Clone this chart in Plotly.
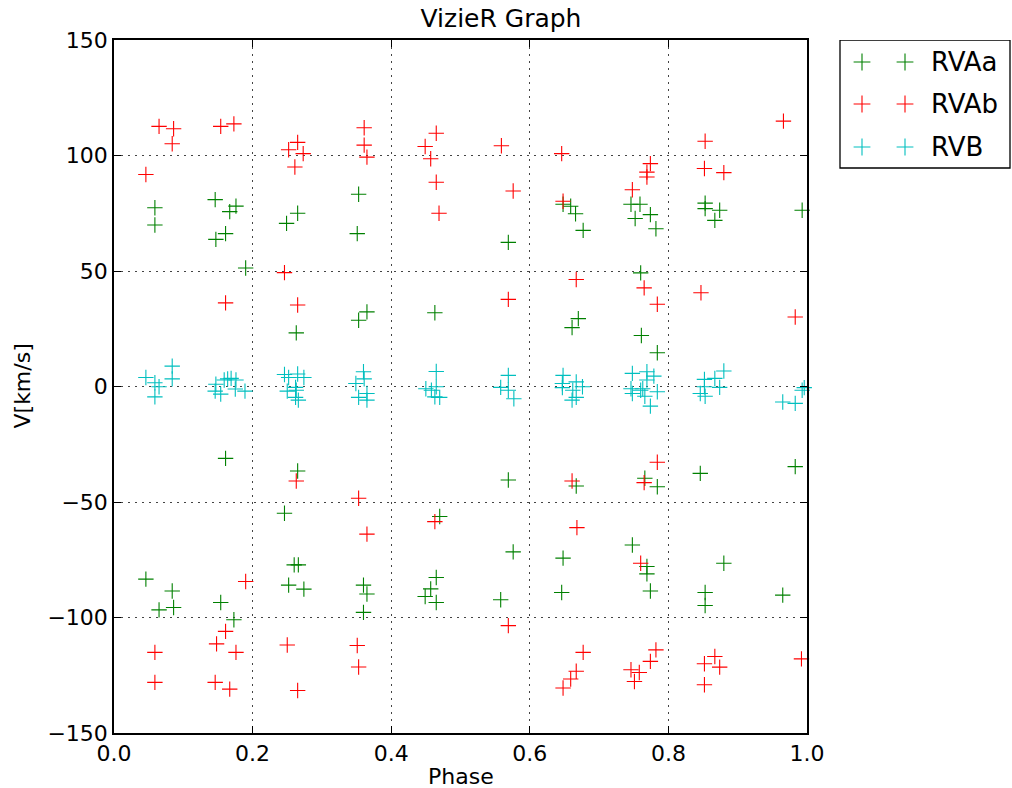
import plotly.graph_objects as go

# ---------------- data ----------------
rvaa_phase = [0.046, 0.059, 0.059, 0.065, 0.084, 0.086, 0.146, 0.147, 0.154, 0.161, 0.161, 0.167, 0.173, 0.176,
              0.190, 0.246, 0.249, 0.252, 0.260, 0.266, 0.263, 0.265, 0.265, 0.274, 0.351, 0.353, 0.353, 0.360,
              0.360, 0.365, 0.365, 0.449, 0.457, 0.463, 0.465, 0.465, 0.470, 0.558, 0.569, 0.569, 0.576, 0.646,
              0.648, 0.648, 0.659, 0.661, 0.666, 0.667, 0.670, 0.677, 0.746, 0.748, 0.752, 0.759, 0.760, 0.761,
              0.766, 0.769, 0.769, 0.774, 0.774, 0.782, 0.784, 0.784, 0.846, 0.853, 0.853, 0.853, 0.853, 0.867,
              0.874, 0.880, 0.965, 0.983, 0.993]
rvaa_v = [-83.4, 77.4, 69.9, -96.7, -88.5, -95.7, 80.9, 63.7, -93.5, 66.2, -31.1, 75.7, -101.0, 78.1,
          51.3, -54.9, 70.6, -86.0, -77.2, -77.2, 23.2, 75.0, -36.6, -87.7, 66.2, 83.2, 28.7, -86.0,
          -97.8, 32.3, -89.8, -90.9, -87.6, 31.9, -82.7, -93.5, -56.3, -92.3, 62.4, -40.5, -71.6, -89.2,
          78.9, -74.3, 78.0, 25.5, 74.8, -43.1, 29.4, 67.6, 78.9, -68.6, 72.7, 78.9, 49.2, 22.1,
          -39.7, -77.9, -81.1, 74.4, -88.5, 68.3, 14.6, -43.4, -37.6, 79.4, 77.0, -89.2, -94.8, 71.9,
          76.3, -76.5, -90.3, -34.7, 76.3]

rvab_phase = [0.046, 0.059, 0.059, 0.065, 0.084, 0.086, 0.146, 0.148, 0.154, 0.161, 0.161, 0.167, 0.173, 0.176,
              0.190, 0.246, 0.250, 0.252, 0.261, 0.263, 0.265, 0.265, 0.265, 0.273, 0.351, 0.353, 0.353, 0.361,
              0.361, 0.365, 0.365, 0.449, 0.457, 0.463, 0.465, 0.465, 0.469, 0.559, 0.569, 0.569, 0.576, 0.646,
              0.648, 0.648, 0.659, 0.661, 0.667, 0.667, 0.668, 0.677, 0.746, 0.748, 0.751, 0.758, 0.760, 0.765,
              0.765, 0.769, 0.769, 0.774, 0.774, 0.782, 0.784, 0.784, 0.847, 0.852, 0.852, 0.852, 0.853, 0.867,
              0.874, 0.880, 0.966, 0.983, 0.992]
rvab_v = [91.8, -115.1, -128.1, 112.6, 105.1, 111.6, -128.1, -111.4, 112.6, 36.2, -106.0, -131.0, 113.7, -115.1,
          -84.4, 49.3, -111.9, 102.5, 95.0, -40.9, 105.7, 35.3, -131.6, 100.8, -112.1, -48.4, -121.4, 112.0,
          104.5, 99.3, -63.9, 103.9, 98.6, -58.5, 109.6, 88.4, 75.0, 104.2, 37.7, -103.5, 84.6, 100.8,
          80.2, -130.5, -126.6, -40.9, 46.3, -123.3, -61.1, -115.1, -122.6, 85.2, -127.7, -123.8, -76.5, 42.7,
          -41.6, 92.8, 90.7, 96.5, -119.0, -114.0, 35.6, -32.8, 40.6, 94.4, -120.0, -129.1, 106.2, -116.9,
          -121.5, 92.6, 114.9, 30.1, -117.9]

rvb_phase = [0.046, 0.059, 0.065, 0.059, 0.084, 0.084, 0.147, 0.146, 0.154, 0.159, 0.164, 0.169, 0.176, 0.175,
             0.189, 0.246, 0.252, 0.250, 0.262, 0.263, 0.262, 0.266, 0.265, 0.274, 0.349, 0.353, 0.360, 0.361,
             0.365, 0.365, 0.450, 0.458, 0.463, 0.465, 0.465, 0.470, 0.558, 0.569, 0.569, 0.577, 0.647, 0.647,
             0.648, 0.661, 0.662, 0.667, 0.667, 0.676, 0.746, 0.748, 0.748, 0.760, 0.763, 0.766, 0.769, 0.769,
             0.774, 0.779, 0.784, 0.846, 0.852, 0.852, 0.853, 0.867, 0.874, 0.880, 0.965, 0.983, 0.993, 0.996]
rvb_v = [3.9, 1.6, -0.1, -4.5, 8.8, 3.3, 1.0, -2.0, -3.3, 2.8, 3.3, 3.5, 2.8, -1.1,
         -2.0, 5.2, 3.9, -2.0, -0.4, -1.6, -4.7, -5.9, 5.4, 3.9, 1.3, -4.7, 6.4, 3.3,
         -3.0, -5.9, -1.0, -1.6, -4.5, 6.5, -0.1, -4.7, -0.4, 4.8, -1.6, -5.3, 1.3, -0.5,
         4.8, -5.9, -1.6, 2.0, -4.7, -0.1, -1.0, 5.7, -3.0, -1.6, -1.0, -4.2, 6.4, 2.8,
         -8.5, 4.5, -2.3, -3.0, 3.1, -0.1, -4.2, 3.5, -0.4, 6.7, -6.7, -7.3, -1.6, -0.5]

series_names = ["RVAa", "RVAb", "RVB"]
series_colors = ["#008000", "#FF0000", "#00BFBF"]

x_ticks = [0.0, 0.2, 0.4, 0.6, 0.8, 1.0]
x_ticklabels = ["0.0", "0.2", "0.4", "0.6", "0.8", "1.0"]
y_ticks = [-150, -100, -50, 0, 50, 100, 150]
y_ticklabels = ["\u2212150", "\u2212100", "\u221250", "0", "50", "100", "150"]

# ---------------- layout geometry ----------------
W, H = 1012, 788
L, R, T, B = 114, 0, 40, 55
plot_w = W - L - R          # 898
plot_h = H - T - B          # 693
main_right_px = 807
main_dom_x = [0, (main_right_px - L) / plot_w]

FONT = "DejaVu Sans, Liberation Sans, sans-serif"

fig = go.Figure()

datasets = [(rvaa_phase, rvaa_v), (rvab_phase, rvab_v), (rvb_phase, rvb_v)]
for (xs, ys), name, col in zip(datasets, series_names, series_colors):
    fig.add_trace(go.Scatter(
        x=xs, y=ys, mode="markers", name=name, showlegend=False,
        marker=dict(symbol="cross-thin", size=11, color=col,
                    line=dict(color=col, width=1.1)),
        cliponaxis=False,
        xaxis="x", yaxis="y"))

# custom legend (matplotlib style: two markers per entry)
leg_left, leg_right, leg_top, leg_bot = 840, 1010, 40, 168
leg_rows = [62, 104, 147]
leg_mark_x = [862, 905]
for name, col, yy in zip(series_names, series_colors, leg_rows):
    fig.add_trace(go.Scatter(
        x=leg_mark_x, y=[yy, yy], mode="markers", showlegend=False, hoverinfo="skip",
        marker=dict(symbol="cross-thin", size=12, color=col, line=dict(color=col, width=1.1)),
        cliponaxis=False, xaxis="x2", yaxis="y2"))
    fig.add_annotation(x=929, y=yy, xref="x2", yref="y2", text=name, showarrow=False,
                       xanchor="left", yanchor="middle",
                       font=dict(family=FONT, size=26, color="black"))

fig.add_shape(type="rect", xref="x2", yref="y2", x0=leg_left, x1=leg_right,
              y0=leg_top, y1=leg_bot, line=dict(color="black", width=1.3),
              fillcolor="rgba(0,0,0,0)")

axis_common = dict(
    showline=True, linecolor="black", linewidth=1.5, mirror="allticks",
    ticks="inside", ticklen=7, tickwidth=1, tickcolor="black",
    showgrid=True, gridcolor="#444444", griddash="2px,5px", gridwidth=1.3,
    zeroline=False, tickfont=dict(family=FONT, size=22, color="black"),
)

fig.update_layout(
    width=W, height=H,
    margin=dict(l=L, r=R, t=T, b=B, autoexpand=False),
    paper_bgcolor="white", plot_bgcolor="white",
    xaxis=dict(domain=main_dom_x, range=[0, 1], tickvals=x_ticks, ticktext=x_ticklabels,
               **axis_common),
    yaxis=dict(domain=[0, 1], range=[-150, 150], tickvals=y_ticks, ticktext=y_ticklabels,
               **axis_common),
    xaxis2=dict(domain=[(leg_left - 5 - L) / plot_w, 1.0], range=[leg_left - 5, W - 0],
                visible=False, fixedrange=True),
    yaxis2=dict(domain=[(733 - 180) / plot_h, 1.0],
                range=[180, 40], visible=False, fixedrange=True),
    title=dict(text="VizieR Graph", x=501 / W, xref="container",
               y=1 - 18 / H, yref="container", xanchor="center", yanchor="middle",
               font=dict(family=FONT, size=25, color="black")),
    showlegend=False,
)

# axis titles as annotations for exact placement
fig.add_annotation(text="Phase", xref="paper", yref="paper",
                   x=(main_dom_x[0] + main_dom_x[1]) / 2, y=-(776 - 733) / plot_h,
                   showarrow=False, xanchor="center", yanchor="middle",
                   font=dict(family=FONT, size=22, color="black"))
fig.add_annotation(text="V[km/s]", xref="paper", yref="paper",
                   x=-(L - 22) / plot_w, y=0.5, textangle=-90,
                   showarrow=False, xanchor="center", yanchor="middle",
                   font=dict(family=FONT, size=22, color="black"))

fig.write_html("out.html")
